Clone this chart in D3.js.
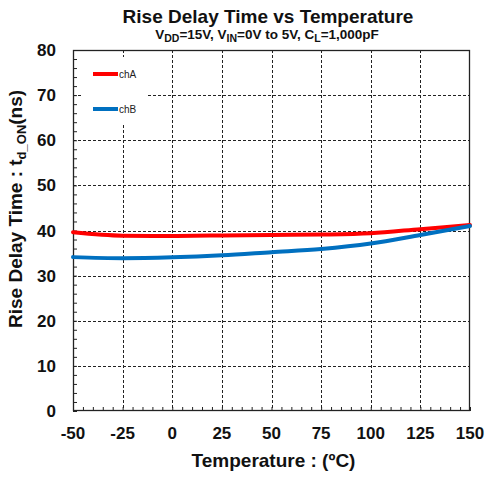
<!DOCTYPE html>
<html>
<head>
<meta charset="utf-8">
<script src="https://cdn.jsdelivr.net/npm/d3@7"></script>
<style>
  html, body { margin: 0; padding: 0; background: #fff; }
  svg { display: block; font-family: "Liberation Sans", Arial, sans-serif; }
</style>
</head>
<body>
<svg id="chart" width="488" height="477"></svg>
<script>
// Temperature (°C) sample points
const temps = [-50, -25, 0, 25, 50, 75, 100, 125, 150];
// Rise delay time t_d_ON (ns) for each channel
const chA = [39.6, 38.85, 38.8, 38.9, 39.0, 39.1, 39.4, 40.3, 41.2];
const chB = [34.1, 33.85, 34.05, 34.5, 35.2, 35.9, 37.1, 39.0, 41.0];
const seriesNames = ["chA", "chB"];
const seriesColors = ["#ff0000", "#0070c0"];
// Axis ticks
const xTicks = [-50, -25, 0, 25, 50, 75, 100, 125, 150];
const yTicks = [0, 10, 20, 30, 40, 50, 60, 70, 80];

const svg = d3.select("#chart");
const plotL = 73, plotR = 470, plotT = 50, plotB = 411;

const x = d3.scaleLinear().domain([-50, 150]).range([plotL, plotR]);
const y = d3.scaleLinear().domain([0, 80]).range([plotB, plotT]);

// Dashed grid at major ticks
const grid = svg.append("g")
  .attr("stroke", "#222")
  .attr("stroke-width", 1)
  .attr("stroke-dasharray", "3,2");
xTicks.filter(v => v > -50 && v < 150).forEach(v => {
  grid.append("line")
    .attr("x1", Math.round(x(v)) + 0.5).attr("x2", Math.round(x(v)) + 0.5)
    .attr("y1", plotT).attr("y2", plotB);
});
yTicks.filter(v => v > 0 && v < 80).forEach(v => {
  grid.append("line")
    .attr("x1", plotL).attr("x2", plotR)
    .attr("y1", Math.round(y(v)) + 0.5).attr("y2", Math.round(y(v)) + 0.5);
});

// Legend background covers the grid behind it
svg.append("rect")
  .attr("x", 83).attr("y", 57).attr("width", 64).attr("height", 68)
  .attr("fill", "#fff");

// Bottom axis: minor ticks every 5°C pointing inward
const xAxis = d3.axisBottom(x)
  .tickValues(d3.range(-50, 151, 5))
  .tickSizeInner(-4).tickSizeOuter(0).tickFormat("");
svg.append("g").attr("transform", `translate(0,${plotB})`).call(xAxis)
  .call(g => g.selectAll("line").attr("stroke", "#222"))
  .call(g => g.select(".domain").remove());

// Left axis: minor ticks every 2 ns pointing inward
const yAxis = d3.axisLeft(y)
  .tickValues(d3.range(0, 81, 2))
  .tickSizeInner(-4).tickSizeOuter(0).tickFormat("");
svg.append("g").attr("transform", `translate(${plotL},0)`).call(yAxis)
  .call(g => g.selectAll("line").attr("stroke", "#222"))
  .call(g => g.select(".domain").remove());

// Plot frame
svg.append("rect")
  .attr("x", plotL + 0.5).attr("y", plotT + 0.5)
  .attr("width", plotR - plotL - 1).attr("height", plotB - plotT - 1)
  .attr("fill", "none").attr("stroke", "#222").attr("stroke-width", 1.3);

// Tick labels
svg.append("g").selectAll("text").data(xTicks).join("text")
  .attr("x", d => x(d)).attr("y", 439)
  .attr("text-anchor", "middle")
  .attr("font-size", 17).attr("font-weight", "bold").attr("fill", "#111")
  .text(d => d);
svg.append("g").selectAll("text").data(yTicks).join("text")
  .attr("x", 56).attr("y", d => y(d) + 6)
  .attr("text-anchor", "end")
  .attr("font-size", 17).attr("font-weight", "bold").attr("fill", "#111")
  .text(d => d);

// Series lines
const line = d3.line()
  .x((d, i) => x(temps[i]))
  .y(d => y(d))
  .curve(d3.curveMonotoneX);
[chA, chB].forEach((vals, i) => {
  svg.append("path")
    .datum(vals)
    .attr("d", line)
    .attr("fill", "none")
    .attr("stroke", seriesColors[i])
    .attr("stroke-width", 4)
    .attr("stroke-linecap", "round");
});

// Legend entries
const legendY = [74, 109];
seriesNames.forEach((name, i) => {
  svg.append("line")
    .attr("x1", 93).attr("x2", 118)
    .attr("y1", legendY[i]).attr("y2", legendY[i])
    .attr("stroke", seriesColors[i]).attr("stroke-width", 4);
  svg.append("text")
    .attr("x", 119).attr("y", legendY[i] + 3.5)
    .attr("font-size", 10).attr("fill", "#222")
    .text(name);
});

// Titles
svg.append("text")
  .attr("x", 268).attr("y", 23)
  .attr("text-anchor", "middle")
  .attr("font-size", 19).attr("font-weight", "bold").attr("fill", "#111")
  .text("Rise Delay Time vs Temperature");

const sub = svg.append("text")
  .attr("x", 267).attr("y", 39)
  .attr("text-anchor", "middle")
  .attr("font-size", 13.5).attr("font-weight", "bold").attr("fill", "#111");
const subParts = [
  ["V", 0], ["DD", 1], ["=15V, V", 0], ["IN", 1], ["=0V to 5V, C", 0], ["L", 1], ["=1,000pF", 0]
];
let prevSub = 0;
subParts.forEach(([t, s]) => {
  const off = s ? 3 : 0;
  sub.append("tspan")
    .attr("dy", off - prevSub)
    .attr("font-size", s ? 10.5 : 13.5)
    .text(t);
  prevSub = off;
});

svg.append("text")
  .attr("x", (plotL + plotR) / 2 + 2).attr("y", 467)
  .attr("text-anchor", "middle")
  .attr("font-size", 19).attr("font-weight", "bold").attr("fill", "#111")
  .text("Temperature : (ºC)");

const yt = svg.append("text")
  .attr("transform", "translate(22,328) rotate(-90)")
  .attr("text-anchor", "start")
  .attr("font-size", 19).attr("font-weight", "bold").attr("fill", "#111");
yt.append("tspan").text("Rise Delay Time : t");
yt.append("tspan").attr("dy", 4).attr("font-size", 13).text("d_ON");
yt.append("tspan").attr("dy", -4).text("(ns)");
</script>
</body>
</html>
